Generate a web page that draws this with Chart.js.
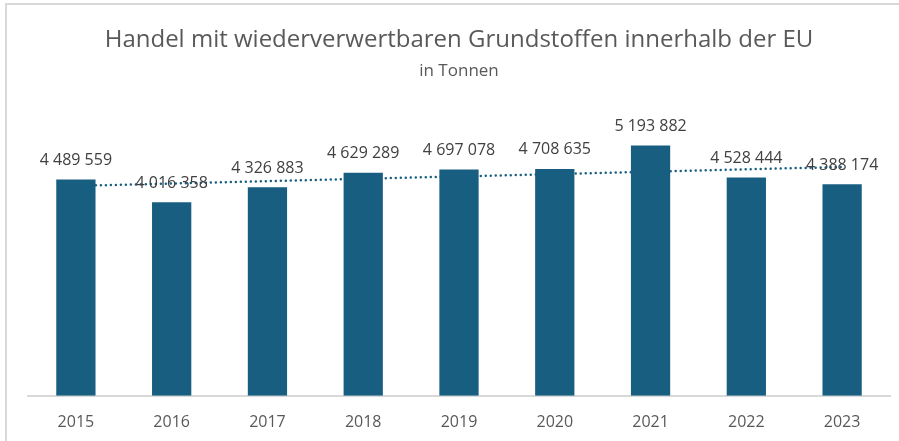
<!DOCTYPE html>
<html>
<head>
<meta charset="utf-8">
<script src="https://cdn.jsdelivr.net/npm/chart.js@4"></script>
<style>
    body { margin: 0; background: #fff; }
    .wrap { position: relative; width: 899px; height: 441px; }
    .frame {
        position: absolute; left: 5px; top: 3px; right: -10px; bottom: -10px;
        border-left: 2px solid #d9d9d9; border-top: 2px solid #d9d9d9;
        pointer-events: none;
    }
    canvas { position: absolute; left: 0; top: 0; }
</style>
</head>
<body>
<div class="wrap">
    <canvas id="chart" width="899" height="441"></canvas>
    <div class="frame"></div>
</div>
<script>
// ------------------ Data ------------------
const years = ['2015', '2016', '2017', '2018', '2019', '2020', '2021', '2022', '2023'];
const tonnes = [4489559, 4016358, 4326883, 4629289, 4697078, 4708635, 5193882, 4528444, 4388174];
// linear trend (start and end only)
const trend = [4357000, null, null, null, null, null, null, null, 4749000];

const barColor = '#175e81';
const font = "'Open Sans', 'Noto Sans', sans-serif";

// "4 489 559" style numbers
function fmt(v) {
    return String(v).replace(/\B(?=(\d{3})+(?!\d))/g, ' ');
}

// Value labels above the bars
const barLabels = {
    id: 'barLabels',
    afterDatasetsDraw(chart) {
        const {ctx} = chart;
        const meta = chart.getDatasetMeta(0);
        ctx.save();
        ctx.font = '16px ' + font;
        ctx.fillStyle = '#404040';
        ctx.textAlign = 'center';
        ctx.textBaseline = 'bottom';
        meta.data.forEach((bar, i) => {
            ctx.fillText(fmt(tonnes[i]), bar.x, bar.y - 11);
        });
        ctx.restore();
    }
};

new Chart(document.getElementById('chart'), {
    data: {
        labels: years,
        datasets: [
            {
                type: 'bar',
                data: tonnes,
                backgroundColor: barColor,
                barPercentage: 0.41,
                categoryPercentage: 1,
                order: 1
            },
            {
                type: 'line',
                data: trend,
                spanGaps: true,
                borderColor: barColor,
                borderWidth: 2.5,
                borderDash: [0, 5],
                borderCapStyle: 'round',
                pointRadius: 0,
                order: 2
            }
        ]
    },
    options: {
        responsive: false,
        animation: false,
        layout: { padding: { left: 28, right: 9, bottom: -8, top: 0 } },
        scales: {
            x: {
                grid: { display: false, drawTicks: false },
                border: { color: '#d9d9d9', width: 2 },
                ticks: { color: '#595959', padding: 17, font: { size: 16, family: font } }
            },
            y: {
                display: false,
                min: 0,
                max: 6000000
            }
        },
        plugins: {
            legend: { display: false },
            tooltip: { enabled: false },
            title: {
                display: true,
                fullSize: false,
                text: 'Handel mit wiederverwertbaren Grundstoffen innerhalb der EU',
                color: '#595959',
                font: { size: 24, weight: 'normal', family: font },
                padding: { top: 26, bottom: 6 }
            },
            subtitle: {
                display: true,
                fullSize: false,
                text: 'in Tonnen',
                color: '#595959',
                font: { size: 17, family: font },
                padding: { top: 0, bottom: 25.5 }
            }
        }
    },
    plugins: [barLabels]
});
</script>
</body>
</html>
